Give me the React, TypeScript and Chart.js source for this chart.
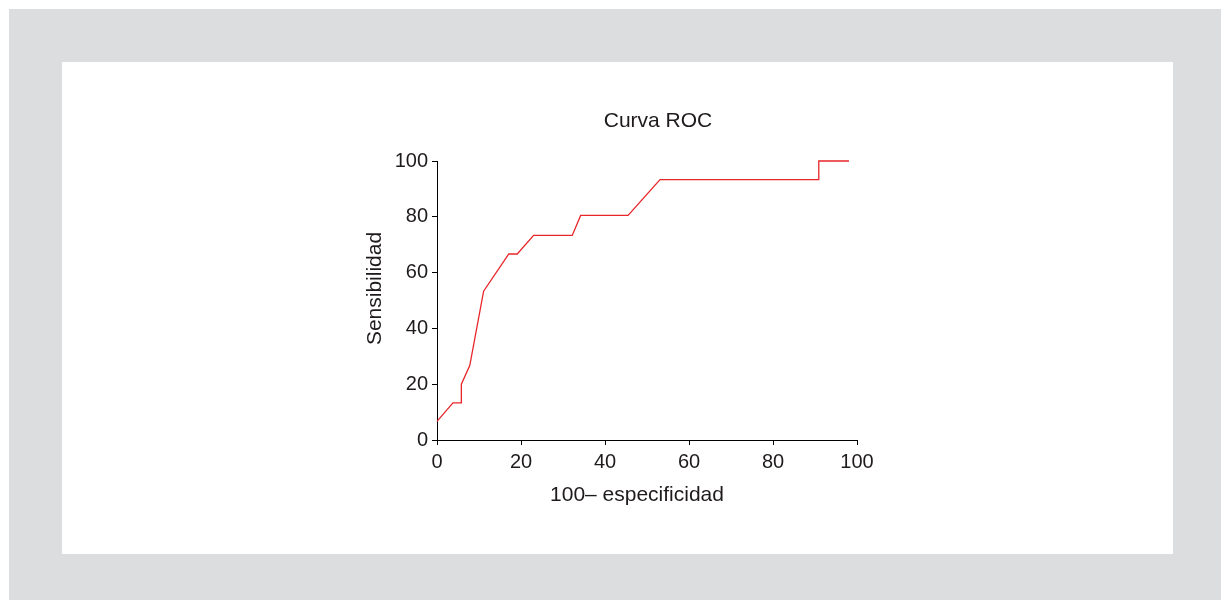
import React, { useEffect, useRef } from "react";
import { Chart, registerables } from "chart.js";

Chart.register(...registerables);

// 100 - specificity (x) and sensitivity (y)
const falsePositiveRate = [0, 3.8, 5.8, 5.8, 7.8, 11.1, 17.1, 19.1, 23.0, 32.2, 34.2, 45.5, 53.1, 90.9, 90.9, 98.1];
const sensitivity = [6.67, 13.33, 13.33, 20, 26.67, 53.33, 66.67, 66.67, 73.33, 73.33, 80.5, 80.5, 93.33, 93.33, 100, 100];
const xTickValues = [0, 20, 40, 60, 80, 100];
const yTickValues = [0, 20, 40, 60, 80, 100];

const chartTitle = "Curva ROC";
const xAxisLabel = "100\u2013 especificidad";
const yAxisLabel = "Sensibilidad";

const TEXT = "#1f1b1c";
const FONT = '"Liberation Sans", Arial, Helvetica, sans-serif';

export default function App() {
  const canvasRef = useRef<HTMLCanvasElement | null>(null);

  useEffect(() => {
    const canvas = canvasRef.current;
    if (!canvas) return;

    const textPlugin = {
      id: "rocTexts",
      afterDraw(chart: any) {
        const { ctx, chartArea: a } = chart;
        const cx = (a.left + a.right) / 2;
        const cy = (a.top + a.bottom) / 2;
        ctx.save();
        ctx.fillStyle = TEXT;
        ctx.font = `21px ${FONT}`;
        ctx.textAlign = "center";
        ctx.textBaseline = "middle";
        ctx.fillText(chartTitle, cx + 11, a.top - 40);
        ctx.fillText(xAxisLabel, cx - 10, a.bottom + 55);
        ctx.translate(a.left - 62, cy - 12);
        ctx.rotate(-Math.PI / 2);
        ctx.fillText(yAxisLabel, 0, 0);
        ctx.restore();
      },
    };

    const points = falsePositiveRate.map((x, i) => ({ x, y: sensitivity[i] }));

    const chart = new Chart(canvas, {
      type: "line",
      data: {
        datasets: [
          {
            data: points,
            borderColor: "#e8262a",
            borderWidth: 1.3,
            pointRadius: 0,
            tension: 0,
            fill: false,
            clip: false as any,
          },
        ],
      },
      options: {
        responsive: false,
        animation: false,
        maintainAspectRatio: false,
        layout: {
          padding: { left: 375 - 60, right: 316, top: 99, bottom: 492 - 378 - 40 },
        },
        plugins: {
          legend: { display: false },
          tooltip: { enabled: false },
          title: { display: false },
        },
        scales: {
          x: {
            type: "linear",
            min: 0,
            max: 100,
            afterFit: (s: any) => {
              s.height = 40;
            },
            afterBuildTicks: (s: any) => {
              s.ticks = xTickValues.map((v) => ({ value: v }));
            },
            grid: {
              display: true,
              drawOnChartArea: false,
              drawTicks: true,
              tickLength: 5,
              color: "#000",
              lineWidth: 1,
            },
            border: { display: true, color: "#000", width: 1 },
            ticks: {
              color: TEXT,
              font: { family: FONT, size: 20 },
              padding: 5,
              maxRotation: 0,
            },
          },
          y: {
            type: "linear",
            min: 0,
            max: 100,
            afterFit: (s: any) => {
              s.width = 60;
            },
            afterBuildTicks: (s: any) => {
              s.ticks = yTickValues.map((v) => ({ value: v }));
            },
            grid: {
              display: true,
              drawOnChartArea: false,
              drawTicks: true,
              tickLength: 5,
              color: "#000",
              lineWidth: 1,
            },
            border: { display: true, color: "#000", width: 1 },
            ticks: {
              color: TEXT,
              font: { family: FONT, size: 20 },
              padding: 4,
            },
          },
        },
      },
      plugins: [textPlugin],
    });

    return () => chart.destroy();
  }, []);

  return (
    <div
      style={{
        position: "fixed",
        left: 0,
        top: 0,
        width: 1221,
        height: 600,
        background: "#ffffff",
        overflow: "hidden",
      }}
    >
      <div
        style={{
          position: "absolute",
          left: 9,
          top: 9,
          width: 1212,
          height: 591,
          background: "#dcdddf",
        }}
      >
        <div
          style={{
            position: "absolute",
            left: 53,
            top: 53,
            width: 1111,
            height: 492,
            background: "#ffffff",
          }}
        >
          <canvas ref={canvasRef} width={1111} height={492} style={{ display: "block", width: 1111, height: 492 }} />
        </div>
      </div>
    </div>
  );
}
